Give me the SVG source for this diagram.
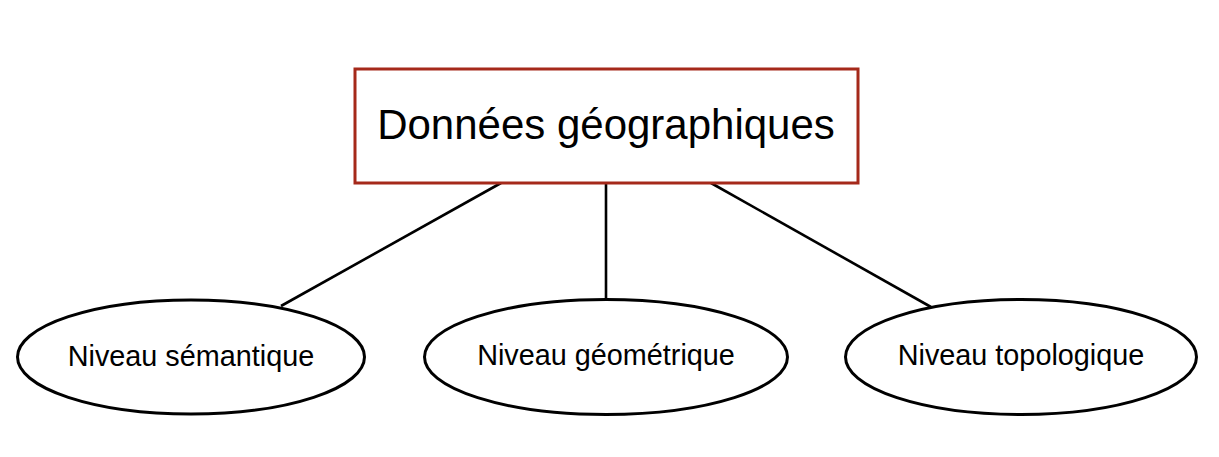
<svg xmlns="http://www.w3.org/2000/svg" width="1219" height="457" viewBox="0 0 1219 457">
<style>
.edge{stroke:#000;stroke-width:2.6;fill:none}
.ell{fill:#fff;stroke:#000;stroke-width:3}
.box{fill:#fff;stroke:#a5291a;stroke-width:3}
.t{font-family:"Liberation Sans",Arial,sans-serif;fill:#000;text-anchor:middle}
.sm{font-size:28.8px}
.lg{font-size:42px}
</style>
<rect width="1219" height="457" fill="#fff"/>
<g id="connectors">
<line class="edge" x1="501" y1="183" x2="281" y2="306"/>
<line class="edge" x1="606" y1="183" x2="606" y2="299"/>
<line class="edge" x1="711" y1="183" x2="931" y2="307"/>
</g>
<g id="root">
<rect class="box" x="355" y="69" width="503" height="114"/>
<text class="t lg" x="606" y="139">Données géographiques</text>
</g>
<g id="semantique">
<ellipse class="ell" cx="191" cy="357" rx="173.5" ry="57"/>
<text class="t sm" x="191" y="366">Niveau sémantique</text>
</g>
<g id="geometrique">
<ellipse class="ell" cx="606" cy="357" rx="181.5" ry="57.5"/>
<text class="t sm" x="606" y="365">Niveau géométrique</text>
</g>
<g id="topologique">
<ellipse class="ell" cx="1021" cy="357" rx="175.5" ry="57.5"/>
<text class="t sm" x="1021" y="365">Niveau topologique</text>
</g>
</svg>
